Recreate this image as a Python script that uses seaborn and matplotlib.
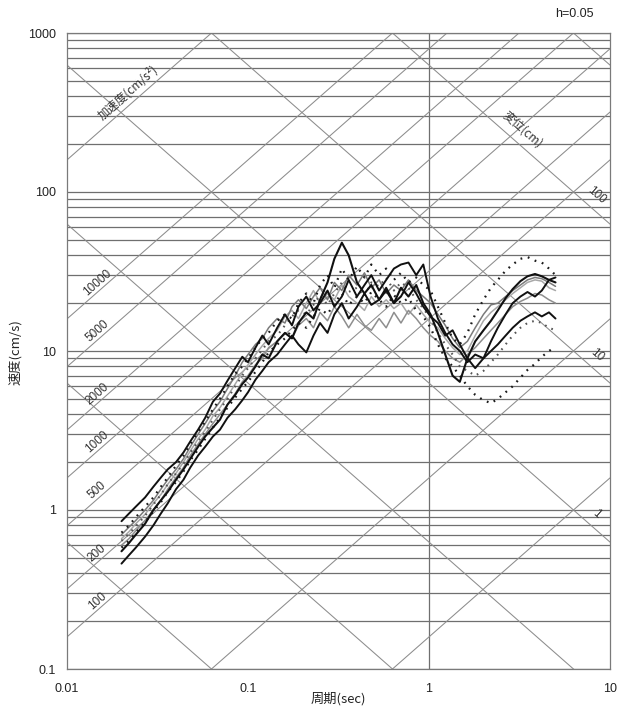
import numpy as np
import pandas as pd
import matplotlib
matplotlib.use("Agg")
import matplotlib.pyplot as plt
from matplotlib.ticker import FixedLocator, FixedFormatter, NullFormatter
import seaborn as sns

# Natural periods (sec) at which the response spectra are sampled
periods = [0.020, 0.022, 0.024, 0.027, 0.030, 0.033, 0.036, 0.040, 0.044, 0.048,
           0.053, 0.058, 0.064, 0.070, 0.077, 0.085, 0.093, 0.10, 0.11, 0.12,
           0.13, 0.145, 0.16, 0.175, 0.19, 0.21, 0.23, 0.25, 0.275, 0.30,
           0.33, 0.36, 0.40, 0.44, 0.48, 0.53, 0.58, 0.64, 0.70, 0.77,
           0.85, 0.93, 1.02, 1.12, 1.23, 1.35, 1.48, 1.63, 1.80, 2.00,
           2.20, 2.40, 2.65, 2.90, 3.20, 3.50, 3.85, 4.20, 4.60, 5.00]

# Pseudo-velocity response spectra (cm/s), h = 0.05
wave_k1 = [0.55, 0.62, 0.70, 0.82, 1.0, 1.15, 1.3, 1.55, 1.8, 2.1,
           2.5, 2.9, 3.3, 3.7, 4.6, 5.3, 6.2, 6.8, 8.0, 9.5,
           9.0, 11.5, 13.0, 12.0, 15.0, 17.5, 16.0, 21.0, 27.0, 38.0,
           48.0, 40.0, 27.0, 23.0, 26.0, 21.0, 24.0, 20.0, 25.0, 22.0,
           26.0, 20.0, 17.0, 13.0, 9.5, 7.0, 6.4, 9.0, 11.5, 13.5,
           15.5, 18.0, 21.5, 24.5, 27.5, 29.5, 30.5, 29.5, 28.0, 27.0]
wave_k2 = [0.85, 0.95, 1.05, 1.2, 1.4, 1.6, 1.8, 2.0, 2.3, 2.7,
           3.2, 3.8, 4.8, 5.4, 6.5, 7.8, 9.2, 8.5, 10.5, 12.5,
           11.0, 14.0, 17.0, 14.5, 19.0, 22.0, 18.0, 20.0, 24.0, 19.0,
           22.0, 28.0, 22.0, 26.0, 30.0, 24.0, 28.0, 33.0, 35.0, 36.0,
           30.0, 35.0, 22.0, 16.0, 13.0, 11.0, 10.0, 8.5, 9.5, 9.0,
           10.0, 11.0, 12.5, 14.0, 15.5, 16.5, 17.5, 16.5, 17.5, 16.0]
wave_k3 = [0.46, 0.52, 0.58, 0.68, 0.80, 0.95, 1.1, 1.35, 1.55, 1.85,
           2.2, 2.5, 2.9, 3.2, 3.8, 4.3, 4.9, 5.5, 6.6, 7.5,
           8.5, 9.5, 11.0, 12.5, 11.0, 9.8, 12.5, 15.0, 13.0, 17.0,
           20.0, 16.0, 19.0, 23.0, 19.5, 21.0, 25.0, 20.0, 22.0, 27.0,
           23.0, 19.0, 16.5, 15.0, 12.5, 13.5, 11.0, 9.0, 7.8, 9.0,
           11.5, 14.0, 17.0, 20.0, 22.0, 23.5, 22.0, 24.0, 28.0, 29.0]
wave_g1 = [0.70, 0.78, 0.86, 1.0, 1.15, 1.35, 1.55, 1.8, 2.1, 2.5,
           3.0, 3.5, 4.2, 4.8, 5.8, 7.0, 8.5, 9.5, 11.0, 12.0,
           14.0, 16.0, 15.0, 19.0, 21.0, 18.5, 22.0, 25.0, 21.0, 27.0,
           24.0, 30.0, 26.0, 31.0, 25.0, 28.0, 23.0, 26.0, 24.0, 28.0,
           24.0, 22.0, 20.0, 17.0, 14.5, 12.0, 10.5, 11.5, 14.0, 17.0,
           19.5, 20.0, 22.0, 24.0, 26.0, 28.0, 29.0, 28.5, 27.0, 25.5]
wave_g2 = [0.60, 0.66, 0.74, 0.86, 1.0, 1.15, 1.35, 1.6, 1.85, 2.2,
           2.6, 3.0, 3.5, 4.0, 4.6, 5.4, 6.4, 7.0, 8.2, 9.0,
           10.5, 11.5, 13.0, 12.0, 14.5, 16.0, 14.0, 17.5, 15.5, 19.0,
           16.5, 14.0, 17.0, 14.5, 13.5, 16.0, 14.0, 17.5, 15.0, 18.0,
           16.0, 14.0, 12.5, 11.5, 10.0, 9.0, 8.5, 9.5, 10.5, 12.0,
           13.5, 15.0, 17.0, 19.0, 20.5, 21.5, 23.0, 22.5, 21.0, 20.0]
wave_g3 = [0.66, 0.73, 0.82, 0.94, 1.1, 1.25, 1.45, 1.7, 2.0, 2.35,
           2.8, 3.2, 3.9, 4.4, 5.2, 6.2, 7.3, 8.2, 9.5, 10.8,
           12.0, 13.5, 16.5, 18.0, 16.0, 20.0, 24.0, 20.0, 23.0, 21.0,
           26.0, 22.0, 20.0, 18.0, 22.0, 19.0, 21.0, 18.5, 20.0, 17.0,
           19.5, 17.0, 15.0, 14.0, 12.0, 10.5, 9.5, 10.0, 12.5, 15.5,
           17.5, 19.0, 21.0, 23.0, 25.0, 27.0, 28.0, 27.5, 25.0, 24.0]
wave_d1 = [0.72, 0.80, 0.90, 1.05, 1.2, 1.4, 1.6, 1.9, 2.2, 2.6,
           3.1, 3.6, 4.3, 5.0, 6.0, 7.2, 8.0, 9.0, 10.5, 12.0,
           13.0, 15.5, 17.0, 16.0, 20.0, 23.0, 20.0, 26.0, 30.0, 25.0,
           33.0, 28.0, 34.0, 29.0, 35.0, 30.0, 33.0, 28.0, 31.0, 27.0,
           29.0, 26.0, 24.0, 19.0, 15.0, 12.0, 11.0, 13.0, 17.0, 21.0,
           25.0, 28.0, 32.0, 35.0, 38.0, 39.0, 37.0, 36.0, 33.0, 30.0]
wave_d2 = [0.58, 0.64, 0.72, 0.84, 0.98, 1.12, 1.3, 1.5, 1.75, 2.05,
           2.4, 2.8, 3.3, 3.8, 4.4, 5.1, 5.8, 6.4, 7.4, 8.5,
           9.8, 11.0, 12.0, 13.5, 15.0, 14.0, 16.5, 18.5, 17.0, 20.0,
           23.0, 19.5, 22.0, 20.0, 23.5, 21.0, 19.0, 22.5, 20.0, 21.5,
           18.0, 16.5, 14.0, 11.0, 9.0, 8.0, 7.0, 6.0, 5.3, 4.9,
           4.7, 5.0, 5.5, 6.0, 6.8, 7.6, 8.3, 9.2, 10.0, 10.6]
wave_d3 = [0.64, 0.71, 0.79, 0.92, 1.08, 1.25, 1.45, 1.7, 1.95, 2.3,
           2.7, 3.1, 3.7, 4.3, 5.0, 6.0, 7.0, 7.8, 9.0, 10.2,
           11.5, 12.5, 14.5, 16.5, 18.0, 17.0, 19.5, 22.5, 19.5, 23.0,
           27.0, 23.5, 25.0, 22.0, 27.0, 25.5, 29.0, 24.0, 27.0, 25.0,
           21.0, 18.5, 16.0, 13.0, 11.0, 9.5, 8.0, 7.5, 7.0, 7.5,
           8.5, 9.5, 11.0, 12.5, 14.0, 15.0, 15.5, 15.0, 14.0, 13.5]

# Tripartite reference lines
accel_lines = [1, 10, 100, 200, 500, 1000, 2000, 5000, 10000, 100000]   # cm/s^2
accel_labels = [100, 200, 500, 1000, 2000, 5000, 10000]
disp_lines = [0.001, 0.01, 0.1, 1, 10, 100, 1000]                        # cm
disp_labels = [1, 10, 100]

x_ticks = [0.01, 0.1, 1, 10]
x_tick_labels = ["0.01", "0.1", "1", "10"]
y_ticks = [0.1, 1, 10, 100, 1000]
y_tick_labels = ["0.1", "1", "10", "100", "1000"]

sns.set_theme(style="white")
plt.rcParams["font.family"] = ["Liberation Sans", "Noto Sans CJK JP", "DejaVu Sans"]
CJK = ["Noto Sans CJK JP", "DejaVu Sans"]

fig = plt.figure(figsize=(6.17, 7.17), dpi=100)
ax = fig.add_axes([67 / 617, 48 / 717, 543 / 617, 636 / 717])
ax.set_xscale("log")
ax.set_yscale("log")
ax.set_xlim(0.01, 10)
ax.set_ylim(0.1, 1000)

# horizontal grid at every 1..9 x 10^n
minor_y = [k * 10.0 ** n for n in range(-1, 3) for k in range(1, 10)] + [1000]
for v in minor_y:
    ax.axhline(v, color="#6f6f6f", lw=0.9, zorder=1)
ax.axvline(1, color="#6f6f6f", lw=0.9, zorder=1)

t_ends = np.array([0.01, 10.0])
for a in accel_lines:
    ax.plot(t_ends, a * t_ends / (2 * np.pi), color="#8c8c8c", lw=0.75, zorder=1)
for d in disp_lines:
    ax.plot(t_ends, 2 * np.pi * d / t_ends, color="#8c8c8c", lw=0.75, zorder=1)

# spectra
order = ["g3", "g2", "g1", "d3", "d2", "d1", "k3", "k2", "k1"]
values = {"k1": wave_k1, "k2": wave_k2, "k3": wave_k3,
          "g1": wave_g1, "g2": wave_g2, "g3": wave_g3,
          "d1": wave_d1, "d2": wave_d2, "d3": wave_d3}
df = pd.concat([pd.DataFrame({"period": periods, "velocity": values[k], "wave": k})
                for k in order], ignore_index=True)
palette = {"k1": "#111111", "k2": "#111111", "k3": "#111111",
           "g1": "#7a7a7a", "g2": "#8e8e8e", "g3": "#a8a8a8",
           "d1": "#1a1a1a", "d2": "#1a1a1a", "d3": "#555555"}
dashes = {"k1": "", "k2": "", "k3": "", "g1": "", "g2": "", "g3": "",
          "d1": (0.8, 2.6), "d2": (0.8, 2.6), "d3": (0.8, 2.6)}
sizes = {"k1": 1.5, "k2": 1.4, "k3": 1.4, "g1": 1.1, "g2": 1.1, "g3": 1.1,
         "d1": 1.6, "d2": 1.6, "d3": 1.5}
sns.lineplot(data=df, x="period", y="velocity", hue="wave", style="wave", size="wave",
             hue_order=order, style_order=order, size_order=order,
             palette=palette, dashes=dashes, sizes=sizes,
             estimator=None, sort=False, legend=False, ax=ax, zorder=3)

ax.xaxis.set_major_locator(FixedLocator(x_ticks))
ax.xaxis.set_major_formatter(FixedFormatter(x_tick_labels))
ax.xaxis.set_minor_formatter(NullFormatter())
ax.yaxis.set_major_locator(FixedLocator(y_ticks))
ax.yaxis.set_major_formatter(FixedFormatter(y_tick_labels))
ax.yaxis.set_minor_formatter(NullFormatter())
ax.tick_params(axis="both", which="both", length=0, labelsize=9, colors="#222222")
ax.tick_params(axis="x", pad=10)
ax.tick_params(axis="y", pad=8)
for s in ax.spines.values():
    s.set_color("#7a7a7a")
    s.set_linewidth(0.9)

ax.set_xlabel("")
ax.set_ylabel("")
fig.text(15 / 617, 1 - 352 / 717, "速度(cm/s)", rotation=90, ha="center", va="center",
         fontsize=9.5, family=CJK, color="#222222")
fig.text(338 / 617, 1 - 699 / 717, "周期(sec)", ha="center", va="center",
         fontsize=9.5, family=CJK, color="#222222")
fig.text(574 / 617, 1 - 14 / 717, "h=0.05", ha="center", va="center",
         fontsize=9, color="#222222")

# on-screen angle of a unit-slope line in log-log space
fig.canvas.draw()
p0 = ax.transData.transform((0.01, 0.1))
p1 = ax.transData.transform((10.0, 100.0))
ang = np.degrees(np.arctan2(p1[1] - p0[1], p1[0] - p0[0]))

t_acc = 0.0147
for a in accel_labels:
    ax.annotate(str(a), xy=(t_acc, a * t_acc / (2 * np.pi)), xytext=(0, 9),
                textcoords="offset pixels", rotation=ang, rotation_mode="anchor",
                ha="center", va="center", fontsize=8.5, color="#333333", zorder=4)
t_acc_title = 0.0217
ax.annotate("加速度(cm/s²)", xy=(t_acc_title, 100000 * t_acc_title / (2 * np.pi)),
            xytext=(0, 14), textcoords="offset pixels", rotation=ang,
            rotation_mode="anchor", ha="center", va="center", fontsize=8.5,
            family=CJK, color="#333333", zorder=4)

t_disp = 8.47
for d in disp_labels:
    ax.annotate(str(d), xy=(t_disp, 2 * np.pi * d / t_disp), xytext=(0, 17),
                textcoords="offset pixels", rotation=-ang, rotation_mode="anchor",
                ha="center", va="center", fontsize=8.5, color="#333333", zorder=4)
t_disp_title = 3.27
ax.annotate("変位(cm)", xy=(t_disp_title, 2 * np.pi * 100 / t_disp_title),
            xytext=(0, 17), textcoords="offset pixels", rotation=-ang,
            rotation_mode="anchor", ha="center", va="center", fontsize=8.5,
            family=CJK, color="#333333", zorder=4)

fig.savefig("out.png", dpi=100)
